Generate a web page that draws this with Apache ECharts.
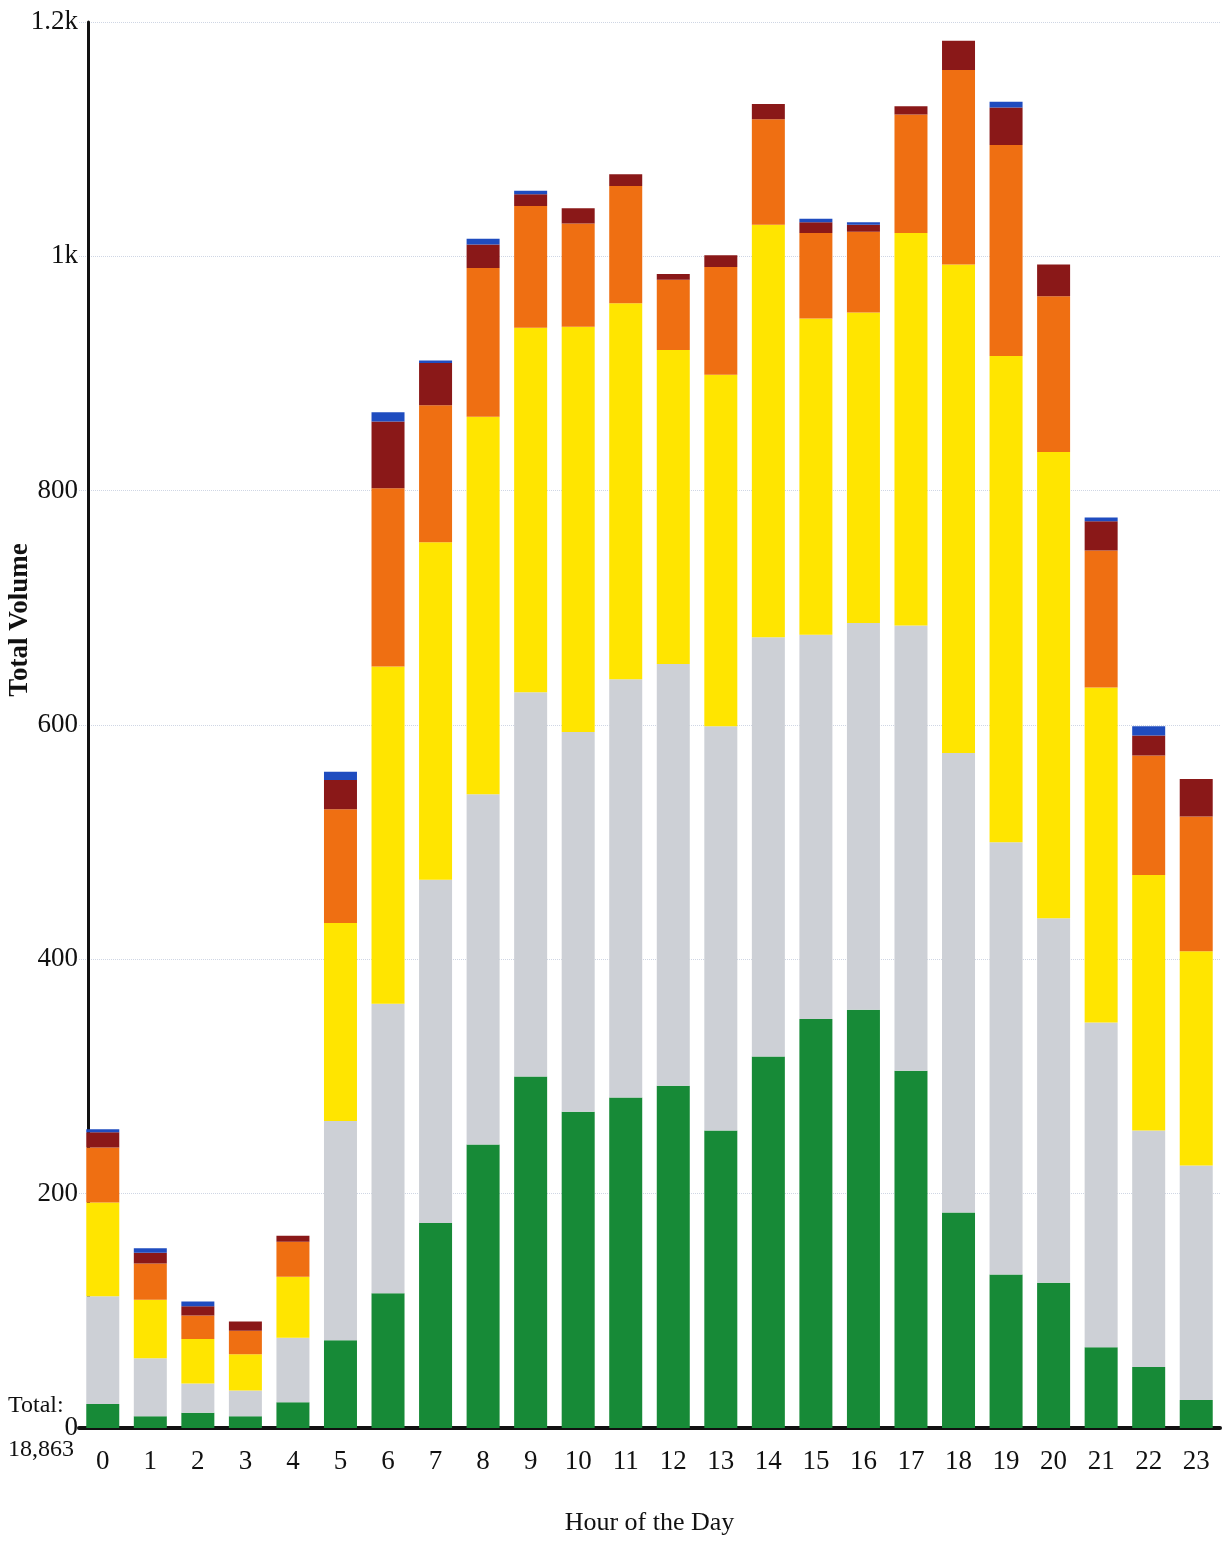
<!DOCTYPE html>
<html>
<head>
<meta charset="utf-8">
<script src="https://cdn.jsdelivr.net/npm/echarts@6/dist/echarts.min.js"></script>
<style>
html,body{margin:0;padding:0;background:#fff;}
#chart{width:1228px;height:1542px;}
</style>
</head>
<body>
<div id="chart"></div>
<script>
var hours = ['0','1','2','3','4','5','6','7','8','9','10','11','12','13','14','15','16','17','18','19','20','21','22','23'];
var greenVals  = [20.5, 10, 13, 10, 22, 75, 115, 175, 242, 300, 270, 282, 292, 254, 317, 349, 357, 305, 184, 131, 124, 69, 52, 24];
var grayVals   = [92, 49.5, 25, 22, 55, 187, 247, 293, 299, 328, 324, 357, 360, 345, 358, 328, 330, 380, 392, 369, 311, 277, 202, 200];
var yellowVals = [80, 50, 38, 31, 52, 169, 288, 288, 322, 311, 346, 321, 268, 300, 352, 270, 265, 335, 417, 415, 398, 286, 218, 183];
var orangeVals = [47, 31, 20, 20, 30, 97, 152, 117, 127, 104, 88, 100, 60, 92, 90, 73, 69, 101, 166, 180, 133, 117, 102, 115];
var darkRedVals= [13, 9, 8, 8, 5, 25, 57, 36, 20, 10, 13, 10, 5, 10, 13, 9, 6, 7, 25, 32, 27, 25, 17, 32];
var blueVals   = [2.5, 4, 4, 0, 0, 7, 8, 2, 5, 3, 0, 0, 0, 0, 0, 3, 2, 0, 0, 5, 0, 3, 8, 0];
var yTicks = {0:'0', 200:'200', 400:'400', 600:'600', 800:'800', 1000:'1k', 1200:'1.2k'};
var yTitle = 'Total Volume';
var totalLabel = 'Total:\n18,863';

var serif = '"Liberation Serif", "Times New Roman", serif';
var chart = echarts.init(document.getElementById('chart'));
function mk(name, data, color) {
  return { name: name, type: 'bar', stack: 'v', data: data, barWidth: 33,
    itemStyle: { color: color }, emphasis: { disabled: true } };
}
chart.setOption({
  animation: false,
  backgroundColor: '#ffffff',
  grid: { left: 79, top: 22, width: 1141, bottom: 114, containLabel: false, outerBoundsMode: 'none' },
  xAxis: {
    type: 'category', data: hours,
    name: 'Hour of the Day', nameLocation: 'middle', nameGap: 82,
    nameTextStyle: { fontFamily: serif, fontSize: 26, color: '#111' },
    axisLine: { show: true, lineStyle: { color: '#111', width: 4 } },
    axisTick: { show: false },
    axisLabel: { interval: 0, fontFamily: serif, fontSize: 27, color: '#111', margin: 20 }
  },
  yAxis: {
    type: 'value', min: 0, max: 1200, interval: 200, offset: -9,
    axisLine: { show: true, lineStyle: { color: '#111', width: 3 } },
    axisTick: { show: false },
    axisLabel: { fontFamily: serif, fontSize: 27, color: '#111', margin: 10,
      formatter: function (v) { return yTicks[v] !== undefined ? yTicks[v] : ''; } },
    splitLine: { show: true, lineStyle: { color: '#cfd6e4', type: 'dotted', width: 1 } }
  },
  series: [
    mk('Green', greenVals, '#178a37'),
    mk('Gray', grayVals, '#cdd0d6'),
    mk('Yellow', yellowVals, '#ffe500'),
    mk('Orange', orangeVals, '#ef6f12'),
    mk('Dark red', darkRedVals, '#8a1818'),
    mk('Blue', blueVals, '#1f4cbf')
  ],
  graphic: [{
    type: 'text', x: 20, y: 620, rotation: Math.PI / 2,
    style: { text: yTitle, fontFamily: serif, fontSize: 27, fontWeight: 'bold', fill: '#111',
      textAlign: 'center', textVerticalAlign: 'middle' }
  }, {
    type: 'text', left: 8, top: 1384,
    style: { text: totalLabel, fontFamily: serif, fontSize: 24, fill: '#111', lineHeight: 44 }
  }]
});
</script>
</body>
</html>
